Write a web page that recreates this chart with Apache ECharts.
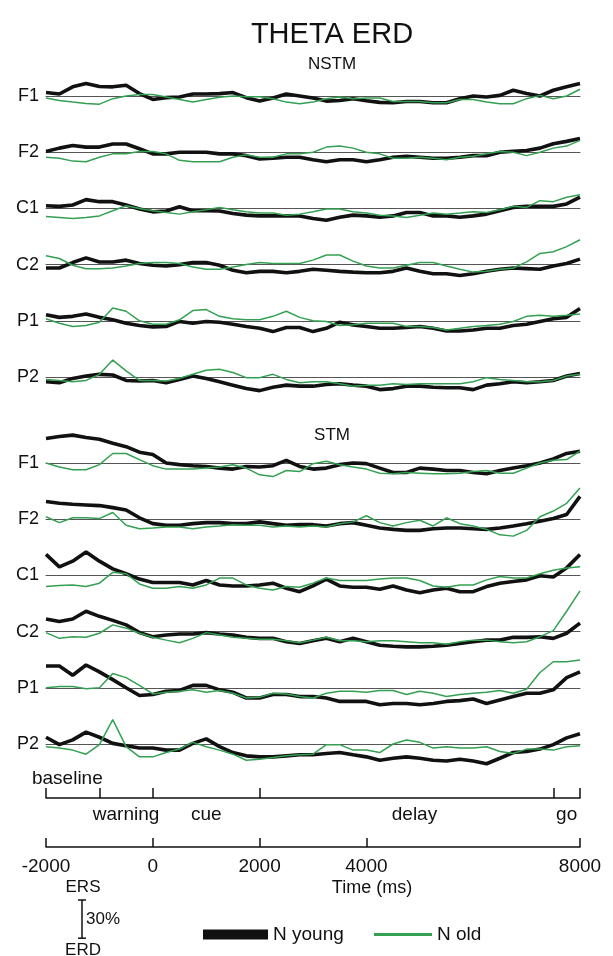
<!DOCTYPE html>
<html>
<head>
<meta charset="utf-8">
<title>Theta ERD</title>
<script src="https://cdn.jsdelivr.net/npm/echarts@6/dist/echarts.min.js"></script>
<style>
	html, body { margin: 0; padding: 0; background: #fff; }
	#chart { width: 613px; height: 956px; }
</style>
</head>
<body>
<div id="chart"></div>
<script>
	"use strict";

	/*----- data (ERD/ERS in %, time in ms) -----*/
	var timeMs = [-2000, -1750, -1500, -1250, -1000, -750, -500, -250, 0, 250, 500, 750, 1000, 1250, 1500, 1750,
		2000, 2250, 2500, 2750, 3000, 3250, 3500, 3750, 4000, 4250, 4500, 4750, 5000, 5250, 5500, 5750,
		6000, 6250, 6500, 6750, 7000, 7250, 7500, 7750, 8000];
	var channels = ['F1', 'F2', 'C1', 'C2', 'P1', 'P2'];

	// NSTM
	var nstmF1Young = [2.7, 1.6, 7.2, 9.9, 7.5, 7.2, 8.5, 1.9, -2.7, -1.3, -0.8, 1.6, 1.6, 1.9, 2.7, -1.3, -4, -1.6, 1.6, 0, -1.6, -4, -3.5, -2.1, -3.7, -5, -5.3, -4.3, -4.3, -5.3, -5.3, -2.1, 0, -0.8, 0.5, 4.5, 1.9, 0, 4.5, 7.2, 9.9];
	var nstmF1Old = [-1.6, -3.5, -4.8, -5.9, -6.4, -2.1, 0, 1.1, 1.1, -0.8, -2.7, -4.8, -2.7, -1, 0, -0.5, -0.5, -2.1, -4.8, -6.1, -4.8, -2.1, -0.8, -2.1, -1.6, -1.6, -4.3, -4.3, -4.3, -5.3, -5.3, -2.7, -2.7, -4.8, -6.1, -6.1, -2.1, 0.5, -2.1, 0, 5.3];
	var nstmF2Young = [0.5, 3.2, 5.3, 4, 4, 6.4, 6.4, 2.7, -1.3, -1.3, 0, 0, 0, -1.3, -1.3, -2.7, -5.3, -4.8, -4, -4, -5.9, -7.5, -5.9, -5.9, -7.5, -5.9, -4, -3.2, -4, -4.8, -4.8, -4, -2.7, -2.7, 0, 0.8, 1.3, 3.2, 6.7, 8.5, 10.7];
	var nstmF2Old = [-4, -4.8, -7, -7.5, -4, -1.3, -1.3, 0.5, 0.5, -1.3, -6.4, -7.5, -7.5, -7.5, -4, -2.1, -4, -4, -1.3, -1.3, 0, 4, 4.8, 3.2, 0, -1.3, -4.8, -4.8, -4, -4.8, -5.9, -4, -3.2, -1.3, 0.5, 0, -2.7, 0, 3.2, 4.8, 9.3];
	var nstmC1Young = [2.1, 1.6, 2.7, 6.9, 5.3, 5.3, 2.7, -0.5, -2.7, -2.1, 1.3, -1.9, -1.9, -2.1, -4, -5.3, -5.9, -5.9, -5.9, -5.9, -8, -9.3, -7, -5.3, -5.9, -7, -5.9, -3.2, -3.2, -5.9, -5.9, -7, -5.9, -4.5, -1.9, 0.8, 1.6, 1.6, 1.6, 3.5, 8.8];
	var nstmC1Old = [-6.4, -7.2, -8, -7.2, -5.9, -1.9, 2.1, 0, -1.9, -3.2, -4.5, -2.7, -1.1, 0.8, -1.1, -2.7, -3.7, -3.7, -5.3, -4.5, -2.7, -0.5, -0.5, -2.7, -3.7, -5.3, -5.9, -7.2, -5.3, -3.7, -4.5, -3.7, -2.7, -3.2, -1.1, 1.6, 0.8, 6.1, 5.3, 8.8, 10.7];
	var nstmC2Young = [-2.7, -2.7, 1.6, 5.3, 2.1, 2.1, 3.5, 0.8, -0.5, -1.1, 0, 1.6, 1.6, -0.5, -4.5, -6.4, -5.3, -5.3, -6.4, -5.3, -3.7, -4.5, -5.3, -5.9, -6.4, -6.4, -5.3, -2.7, -5.3, -7.2, -7.2, -8.5, -7.2, -5.3, -3.7, -2.7, -3.2, -3.7, -1.1, 0.8, 4.3];
	var nstmC2Old = [6.9, 4.8, -0.5, -3.2, -3.2, -2.7, -1.1, 0.8, 1.6, 1.6, 0.8, -1.9, -3.7, -3.7, -1.9, 0, 1.6, 0.8, 0.8, 0.8, 3.5, 7.5, 7.5, 2.7, -1.1, -2.7, -2.7, -0.5, 1.6, 1.6, -1.1, -3.7, -5.9, -5.3, -3.7, -2.7, 2.1, 8.8, 10.1, 14.1, 19.5];
	var nstmP1Young = [4.8, 2.7, 3.5, 5.3, 2.7, 0.8, -1.9, -3.7, -4.8, -4.5, -0.5, -1.9, -0.5, -1.1, -2.7, -4.5, -5.9, -8.5, -5.3, -5.3, -8.5, -5.9, -1.1, -3.2, -4.5, -5.9, -5.9, -5.3, -4.5, -5.9, -8, -8, -7.2, -5.9, -5.9, -3.7, -2.7, -0.5, 1.6, 2.7, 9.6];
	var nstmP1Old = [1.6, -1.9, -4.5, -3.7, -1.1, 10.1, 7.5, 0, -2.7, -2.7, 0.8, 8, 8.8, 3.5, 1.6, 0.8, 0.8, 3.5, 7.5, 2.7, 0, -0.5, -3.7, -3.2, -1.9, -1.9, -1.9, -4.5, -4.5, -5.3, -7.2, -5.9, -4.5, -3.7, -2.7, -0.5, 3.5, 4.3, 3.5, 4.3, 5.3];
	var nstmP2Young = [-3.7, -4.5, -1.1, 0.8, 2.1, 1.6, -2.7, -3.2, -2.7, -4.5, -1.9, 0.8, -1.1, -3.7, -6.4, -9.1, -10.7, -8, -6.4, -7.2, -7.2, -5.9, -5.3, -6.4, -7.2, -9.9, -9.1, -7.2, -7.2, -8, -8.5, -8.5, -9.9, -6.4, -5.3, -3.7, -4.5, -3.7, -2.7, 0.8, 2.7];
	var nstmP2Old = [-1.9, -2.7, -3.7, -2.7, 2.1, 13.3, 4.8, -2.7, -2.7, -3.2, -1.1, 2.1, 5.3, 6.1, 3.5, -0.5, -0.5, 2.1, -1.9, -4.5, -3.7, -3.7, -5.3, -7.2, -6.4, -6.4, -5.3, -5.9, -5.3, -5.3, -5.3, -5.3, -3.7, -0.5, -1.9, -2.7, -3.7, -3.7, -2.7, 0.8, 2.1];

	// STM
	var stmF1Young = [19.2, 20.8, 21.9, 20, 18.7, 15.5, 12.8, 8.5, 6.7, 0, -1.3, -2.1, -2.7, -4, -4.8, -2.7, -3.2, -2.1, 2.1, -2.7, -4.8, -4, -1.3, 0, -0.5, -4, -7.5, -7.5, -4, -4.8, -5.9, -5.9, -7.5, -8.5, -5.9, -4, -2.1, 0, 3.2, 7.5, 9.3];
	var stmF1Old = [0, -3.2, -5.3, -5.3, -1.3, 7.5, 7.5, 2.7, -2.1, -4.8, -4.8, -4.8, -4, -3.2, -1.3, -4, -9.3, -10.7, -5.9, -6.7, -0.5, 1.3, -1.3, -3.2, -4.8, -8, -8.5, -7.5, -8, -8.5, -8.5, -8, -6.7, -5.9, -8, -8, -4, 0, 2.1, 2.7, 9.3];
	var stmF2Young = [13.9, 12.5, 11.7, 11.2, 10.7, 9.1, 7.2, 1.1, -3.5, -4.8, -4.8, -3.5, -2.7, -2.7, -3.5, -3.5, -2.1, -3.5, -4.8, -4.3, -4.3, -5.3, -3.5, -2.7, -4.8, -6.9, -8, -8.8, -8.8, -7.5, -6.9, -6.9, -7.5, -8, -6.9, -5.3, -3.5, -1.6, 0.5, 3.7, 17.9];
	var stmF2Old = [1.9, -2.7, 1.1, 1.1, 0.5, 5.3, -4.8, -7.5, -6.9, -6.1, -6.1, -7.5, -6.1, -5.3, -4.3, -4.8, -4.8, -6.1, -5.3, -6.1, -5.3, -6.1, -3.5, -2.1, 2.7, -2.7, -5.3, -2.7, -0.8, -5.3, 1.1, -3.5, -5.3, -8, -12.3, -13.3, -8.8, 1.9, 6.4, 12.5, 24.5];
	var stmC1Young = [16.5, 6.7, 11.2, 18.4, 11.2, 5.1, 1.3, -2.9, -5.6, -5.6, -5.6, -7.5, -4, -7.5, -8.3, -8.3, -7.5, -6.1, -10.1, -12.8, -8.3, -2.9, -8.3, -9.3, -9.3, -10.9, -8.3, -11.5, -13.6, -11.5, -10.1, -12.8, -12.8, -8.8, -6.1, -4.8, -3.5, -0.3, -1.3, 5.9, 16.5];
	var stmC1Old = [-8.8, -8, -7.5, -8.8, -6.1, 2.4, 1.3, -6.7, -10.1, -10.1, -8.8, -10.1, -7.5, -2.1, -2.1, -7.5, -10.1, -11.5, -8.8, -9.3, -6.1, -2.1, -4, -4, -4, -2.9, -2.1, -2.1, -4, -8.3, -9.3, -7.5, -7.5, -3.5, -0.8, -2.1, -2.1, 1.3, 4, 5.9, 6.7];
	var stmC2Young = [9.9, 8, 9.9, 16, 12, 8.8, 5.3, -0.8, -4, -2.7, -1.9, -1.9, -0.8, -1.9, -2.7, -4.5, -5.3, -5.3, -8, -9.3, -7.2, -5.3, -8, -5.3, -8, -10.7, -11.5, -12, -12, -11.5, -10.7, -9.3, -8, -6.7, -6.7, -4.5, -4.5, -4, -5.3, -1.3, 6.7];
	var stmC2Old = [-0.8, -5.3, -4, -4.5, -1.3, 5.3, 2.7, -1.3, -4.5, -6.7, -8.8, -5.3, -0.8, -2.7, -4.5, -5.3, -6.1, -6.1, -7.2, -8.8, -6.7, -4.5, -7.2, -7.2, -8, -7.2, -7.2, -8, -8.8, -8.8, -9.9, -8, -6.7, -6.7, -8, -8.8, -8, -4, 0.8, 16, 32];
	var stmP1Young = [17.1, 17.1, 9.9, 17.9, 12.5, 6.4, 0, -6.1, -5.3, -2.7, -2.1, 1.9, 1.9, -1.6, -3.5, -8, -8, -5.3, -5.3, -6.9, -6.9, -8, -10.7, -10.7, -10.7, -13.3, -12.3, -12.3, -13.3, -12.3, -10.7, -10.1, -8.8, -12.3, -9.6, -6.9, -4.3, -4.3, -1.6, 8, 12.5];
	var stmP1Old = [0, 1.1, 1.1, -0.8, 0, 11.2, 8, 1.9, -4.8, -3.5, -2.7, -1.6, -3.5, -2.1, -4.3, -8, -7.5, -4.3, -4.8, -6.9, -8, -4.3, -2.7, -2.7, -3.5, -2.1, -2.1, -5.3, -2.7, -4.3, -6.9, -5.3, -4.3, -3.5, -2.1, -4.3, -1.1, 12, 20.5, 20.5, 21.9];
	var stmP2Young = [5.3, -0.5, 3.2, 9.3, 5.3, 0.5, -1.3, -3.2, -3.2, -4.8, -4.8, 0.5, 4, -2.1, -6.7, -9.3, -10.1, -10.1, -9.3, -8.5, -8.5, -7.5, -6.7, -8.5, -10.1, -12.8, -11.2, -10.1, -11.2, -12.8, -13.3, -12, -13.3, -15.5, -11.2, -6.7, -5.9, -4, -0.5, 4.8, 8];
	var stmP2Old = [-2.1, -3.2, -4.8, -8, -0.5, 19.2, -2.1, -10.1, -10.1, -6.7, -4, 1.3, -2.1, -4.8, -8, -12.8, -12, -10.7, -9.3, -8.5, -8, -0.5, -0.5, -4.8, -4.8, -6.7, 0, 3.2, 1.3, -3.2, -2.1, -3.2, -3.2, -2.1, -5.9, -7.5, -4, -4, -4.8, -2.1, -1.3];

	// task events and time axis
	var eventTicks = [-2000, -1000, 0, 2000, 7500, 8000];
	var eventNames = ['warning', 'cue', 'delay', 'go'];
	var eventNamePos = [-500, 1000, 4900, 7750];
	var baselineNamePos = [-1600];
	var timeTicks = [-2000, 0, 2000, 4000, 8000];
	var scaleBarPct = 30;

	var blocks = [
		{ name: 'NSTM', young: [nstmF1Young, nstmF2Young, nstmC1Young, nstmC2Young, nstmP1Young, nstmP2Young],
			old: [nstmF1Old, nstmF2Old, nstmC1Old, nstmC2Old, nstmP1Old, nstmP2Old] },
		{ name: 'STM', young: [stmF1Young, stmF2Young, stmC1Young, stmC2Young, stmP1Young, stmP2Young],
			old: [stmF1Old, stmF2Old, stmC1Old, stmC2Old, stmP1Old, stmP2Old] }
	];

	/*----- layout -----*/
	var FONT = 'Liberation Sans, Arial, sans-serif';
	var plotLeft = 46, plotWidth = 534;
	var blockTop = [96, 463];   // baseline of first row in each block
	var rowStep = 56.2;
	var rowHeight = 56, yMax = 22;
	var pxPerPct = rowHeight / (2 * yMax);
	var youngColor = '#111111', oldColor = '#33a052';

	function pairs(values) {
		return timeMs.map(function (t, i) { return [t, values[i]]; });
	}

	var grids = [], xAxes = [], yAxes = [], series = [];

	blocks.forEach(function (block, b) {
		channels.forEach(function (ch, r) {
			var k = grids.length;
			var base = blockTop[b] + r * rowStep;
			grids.push({ left: plotLeft, width: plotWidth, top: base - rowHeight / 2, height: rowHeight });
			xAxes.push({
				gridIndex: k, type: 'value', min: -2000, max: 8000,
				axisLine: { onZero: true, lineStyle: { color: '#555', width: 1 } },
				axisTick: { show: false }, axisLabel: { show: false }, splitLine: { show: false }
			});
			yAxes.push({
				gridIndex: k, type: 'value', min: -yMax, max: yMax,
				axisLine: { show: false }, axisTick: { show: false }, axisLabel: { show: false }, splitLine: { show: false },
				name: ch, nameLocation: 'middle', nameRotate: 0, nameGap: 7,
				nameTextStyle: { fontSize: 18, color: '#111', align: 'right', verticalAlign: 'middle', fontFamily: FONT, padding: [4, 0, 0, 0] }
			});
			series.push({
				name: 'N young', type: 'line', xAxisIndex: k, yAxisIndex: k,
				data: pairs(block.young[r]), symbol: 'none', clip: false, silent: true,
				color: youngColor, lineStyle: { color: youngColor, width: 3.6 }
			});
			series.push({
				name: 'N old', type: 'line', xAxisIndex: k, yAxisIndex: k,
				data: pairs(block.old[r]), symbol: 'none', clip: false, silent: true,
				color: oldColor, lineStyle: { color: oldColor, width: 1.5 }
			});
		});
	});

	// task events axis
	var evGrid = grids.length;
	grids.push({ left: plotLeft, width: plotWidth, top: 788, height: 10 });
	xAxes.push({
		gridIndex: evGrid, type: 'value', min: -2000, max: 8000, position: 'bottom',
		axisLine: { onZero: false, lineStyle: { color: '#111', width: 1.5 } },
		axisTick: { inside: true, length: 10, customValues: eventTicks, lineStyle: { color: '#111', width: 1.5 } },
		axisLabel: {
			customValues: eventNamePos, margin: 7, fontSize: 19, color: '#111', fontFamily: FONT,
			formatter: function (v) { return eventNames[eventNamePos.indexOf(v)]; }
		},
		splitLine: { show: false }
	});
	xAxes.push({
		gridIndex: evGrid, type: 'value', min: -2000, max: 8000, position: 'top',
		axisLine: { show: false }, axisTick: { show: false }, splitLine: { show: false },
		axisLabel: {
			customValues: baselineNamePos, margin: 0, fontSize: 19, color: '#111', fontFamily: FONT,
			formatter: function () { return 'baseline'; }
		}
	});
	yAxes.push({ gridIndex: evGrid, type: 'value', show: false, min: 0, max: 1 });

	// time axis
	var tGrid = grids.length;
	grids.push({ left: plotLeft, width: plotWidth, top: 838, height: 9 });
	xAxes.push({
		gridIndex: tGrid, type: 'value', min: -2000, max: 8000, position: 'bottom',
		axisLine: { onZero: false, lineStyle: { color: '#111', width: 1.5 } },
		axisTick: { inside: true, length: 9, customValues: timeTicks, lineStyle: { color: '#111', width: 1.5 } },
		axisLabel: {
			customValues: timeTicks, margin: 10, fontSize: 19, color: '#111', fontFamily: FONT,
			formatter: function (v) { return String(v); }
		},
		splitLine: { show: false },
		name: 'Time (ms)', nameLocation: 'middle', nameGap: 32,
		nameTextStyle: { fontSize: 18, color: '#111', fontFamily: FONT, padding: [0, 0, 0, 118] }
	});
	yAxes.push({ gridIndex: tGrid, type: 'value', show: false, min: 0, max: 1 });

	// ERS / ERD scale bar, same vertical scale as the traces
	var barTop = 900, barX = 82, barLen = scaleBarPct * pxPerPct;
	var txt = function (x, y, s, align) {
		return { type: 'text', x: x, y: y, style: { text: s, fontSize: 17, fontFamily: FONT, fill: '#111', align: align || 'center', verticalAlign: 'middle' } };
	};
	var seg = function (x1, y1, x2, y2) {
		return { type: 'line', shape: { x1: x1, y1: y1, x2: x2, y2: y2 }, style: { stroke: '#111', lineWidth: 1.5 } };
	};

	var option = {
		animation: false,
		backgroundColor: '#fff',
		textStyle: { fontFamily: FONT },
		title: [
			{ text: 'THETA ERD', left: 327, top: 15, textAlign: 'center', textStyle: { fontSize: 29, fontWeight: 'normal', color: '#111', fontFamily: FONT } },
			{ text: blocks[0].name, left: 327, top: 51, textAlign: 'center', textStyle: { fontSize: 17, fontWeight: 'normal', color: '#111', fontFamily: FONT } },
			{ text: blocks[1].name, left: 327, top: 422, textAlign: 'center', textStyle: { fontSize: 17, fontWeight: 'normal', color: '#111', fontFamily: FONT } }
		],
		legend: [
			{ data: [{ name: 'N young', icon: 'rect' }], left: 198, top: 920, itemWidth: 65, itemHeight: 10, selectedMode: false,
				textStyle: { fontSize: 19, color: '#111', fontFamily: FONT } },
			{ data: [{ name: 'N old', icon: 'rect' }], left: 369, top: 920, itemWidth: 58, itemHeight: 3, selectedMode: false,
				textStyle: { fontSize: 19, color: '#111', fontFamily: FONT } }
		],
		grid: grids,
		xAxis: xAxes,
		yAxis: yAxes,
		series: series,
		graphic: [
			txt(barX + 1, barTop - 13, 'ERS'),
			seg(barX, barTop, barX, barTop + barLen),
			seg(barX - 4, barTop, barX + 4, barTop),
			seg(barX - 4, barTop + barLen, barX + 4, barTop + barLen),
			txt(barX + 4, barTop + barLen / 2, '30%', 'left'),
			txt(barX + 1, barTop + barLen + 12, 'ERD')
		]
	};

	var chart = echarts.init(document.getElementById('chart'));
	chart.setOption(option);
	window.addEventListener('resize', function () {
		chart.resize();
	});
</script>
</body>
</html>
